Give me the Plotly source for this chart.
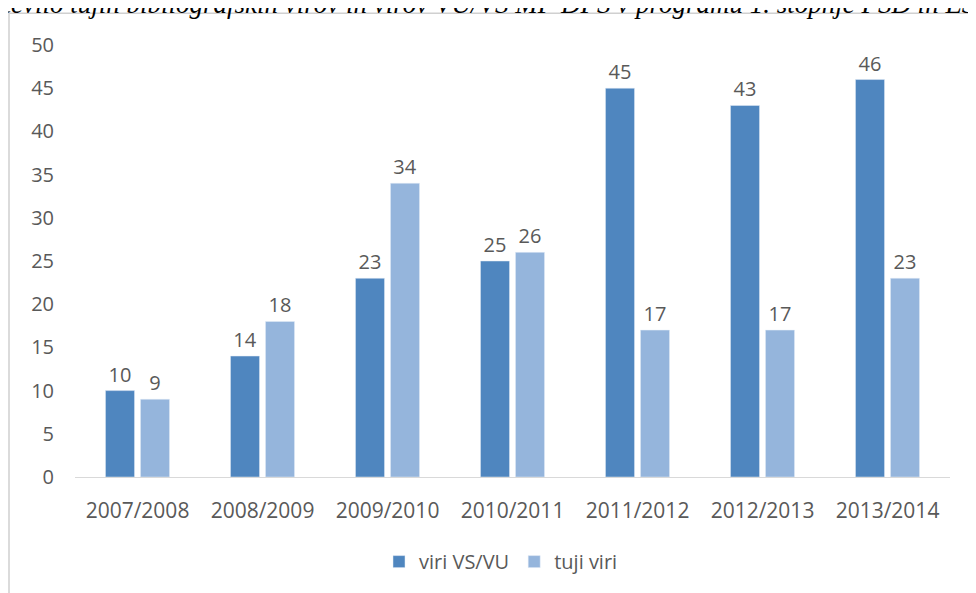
import plotly.graph_objects as go

categories = ["2007/2008", "2008/2009", "2009/2010", "2010/2011", "2011/2012", "2012/2013", "2013/2014"]
viri_vs_vu = [10, 14, 23, 25, 45, 43, 46]
tuji_viri = [9, 18, 34, 26, 17, 17, 23]
series_names = ["viri VS/VU", "tuji viri"]
y_ticks = [0, 5, 10, 15, 20, 25, 30, 35, 40, 45, 50]
title_text = "Število tujih bibliografskih virov in virov VU/VS MF DPS v programu 1. stopnje PSD in ESD"

OFF = 8  # page body margin
W, H = 976 - OFF, 593 - OFF
L, R, T, B = 67, 26, 37, 114
pw, ph = W - L - R, H - T - B

font_family = "Open Sans, Liberation Sans, sans-serif"
gray = "#595959"
FS = 20

def fx(p):  # reference pixel x -> paper
    return (p - OFF - L) / pw

def fy(p):  # reference pixel y -> paper
    return (H - B - (p - OFF)) / ph

fig = go.Figure()
fig.add_trace(go.Bar(x=categories, y=viri_vs_vu, name=series_names[0], marker_color="#4F86BF",
                     text=viri_vs_vu, textposition="outside", cliponaxis=False,
                     textfont=dict(color=gray, size=FS, family=font_family)))
fig.add_trace(go.Bar(x=categories, y=tuji_viri, name=series_names[1], marker_color="#95B5DC",
                     text=tuji_viri, textposition="outside", cliponaxis=False,
                     textfont=dict(color=gray, size=FS, family=font_family)))

fig.update_layout(
    width=W, height=H,
    margin=dict(l=L, r=R, t=T, b=B),
    paper_bgcolor="white", plot_bgcolor="white",
    barmode="group", bargap=0.44, bargroupgap=0.17,
    font=dict(family=font_family, color=gray, size=FS),
    showlegend=True,
    legend=dict(orientation="h", x=fx(501), xanchor="center", y=fy(564), yanchor="middle",
                font=dict(size=FS, color=gray), itemwidth=30, traceorder="normal"),
    xaxis=dict(showgrid=False, showline=True, linecolor="#D9D9D9", linewidth=1,
               ticks="", ticklabelstandoff=15, tickfont=dict(size=21, color=gray)),
    yaxis=dict(range=[0, 50], tickvals=y_ticks, showgrid=False, zeroline=False,
               showline=False, ticks="", ticklabelstandoff=20,
               tickfont=dict(size=FS, color=gray)),
    shapes=[dict(type="rect", xref="paper", yref="paper",
                 x0=fx(9), x1=fx(1010), y0=fy(640), y1=fy(13),
                 line=dict(color="#D0D0D0", width=1.5), fillcolor="rgba(0,0,0,0)", layer="below")],
    annotations=[dict(text="<i>" + title_text + "</i>", xref="paper", yref="paper",
                      x=fx(-12), xanchor="left", y=fy(21), yanchor="bottom", showarrow=False,
                      font=dict(family="Liberation Serif, serif", size=27, color="black"))],
)

fig.write_html("out.html")
